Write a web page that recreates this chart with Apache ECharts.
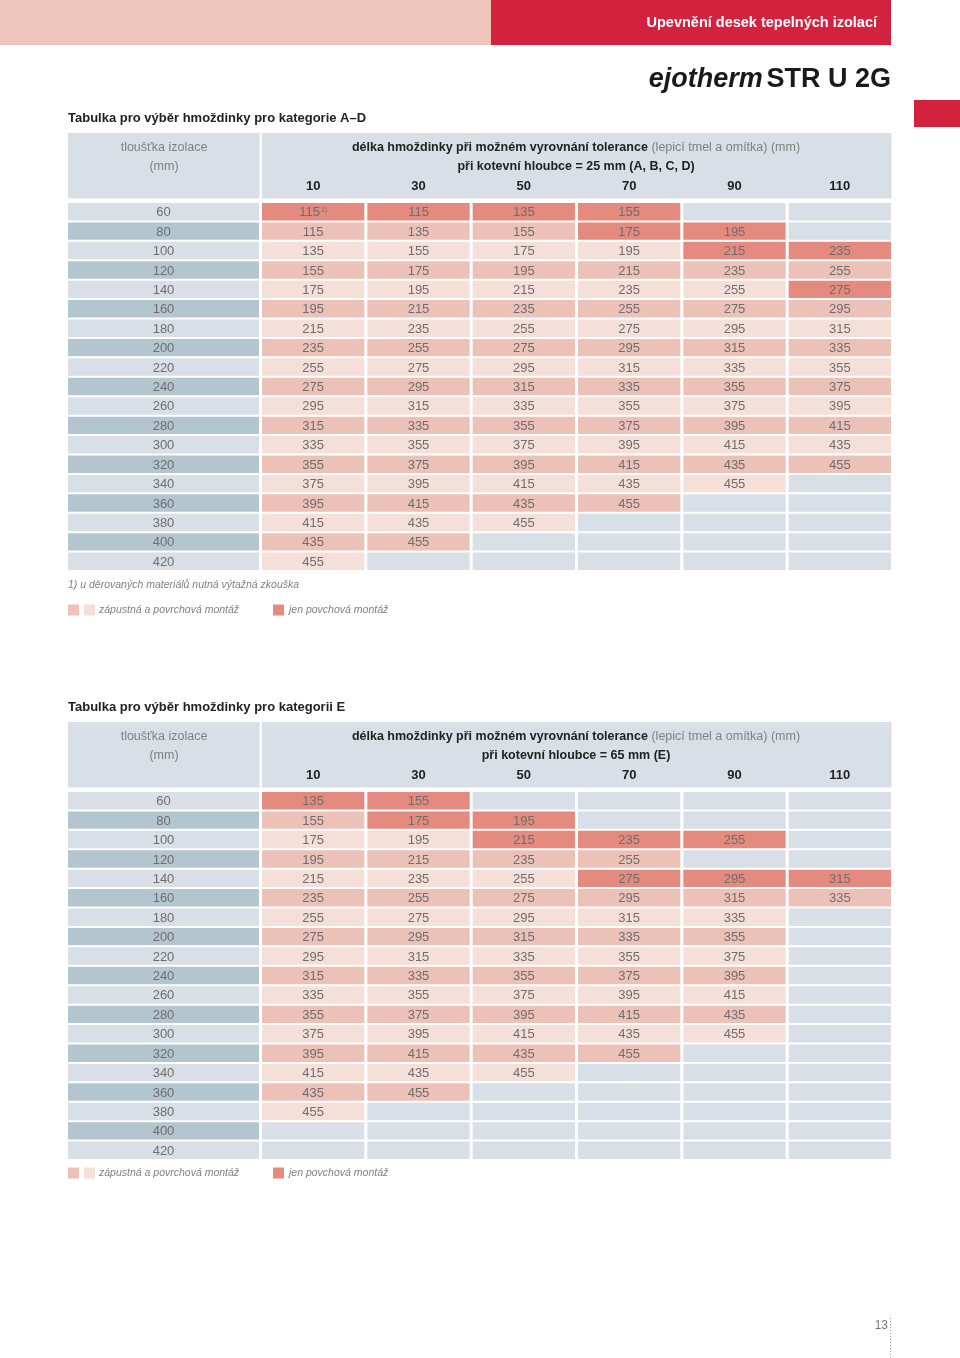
<!DOCTYPE html>
<html><head><meta charset="utf-8">
<script src="https://cdn.jsdelivr.net/npm/echarts@6/dist/echarts.min.js"></script>
<style>html,body{margin:0;padding:0;background:#fff}#c{width:960px;height:1358px}</style>
</head><body><div id="c"></div>
<script>
// ---------- data ----------
const thickness = [60,80,100,120,140,160,180,200,220,240,260,280,300,320,340,360,380,400,420];
const tolerance = ['10','30','50','70','90','110'];

const lengthsAD = [
  [115,115,135,155,null,null],
  [115,135,155,175,195,null],
  [135,155,175,195,215,235],
  [155,175,195,215,235,255],
  [175,195,215,235,255,275],
  [195,215,235,255,275,295],
  [215,235,255,275,295,315],
  [235,255,275,295,315,335],
  [255,275,295,315,335,355],
  [275,295,315,335,355,375],
  [295,315,335,355,375,395],
  [315,335,355,375,395,415],
  [335,355,375,395,415,435],
  [355,375,395,415,435,455],
  [375,395,415,435,455,null],
  [395,415,435,455,null,null],
  [415,435,455,null,null,null],
  [435,455,null,null,null,null],
  [455,null,null,null,null,null]
];
// cells only for surface mounting: [thickness, tolerance]
const surfaceOnlyAD = [[60,'10'],[60,'30'],[60,'50'],[60,'70'],[80,'70'],[80,'90'],[100,'90'],[100,'110'],[140,'110']];
const footnoteAD = [[60,'10']];

const lengthsE = [
  [135,155,null,null,null,null],
  [155,175,195,null,null,null],
  [175,195,215,235,255,null],
  [195,215,235,255,null,null],
  [215,235,255,275,295,315],
  [235,255,275,295,315,335],
  [255,275,295,315,335,null],
  [275,295,315,335,355,null],
  [295,315,335,355,375,null],
  [315,335,355,375,395,null],
  [335,355,375,395,415,null],
  [355,375,395,415,435,null],
  [375,395,415,435,455,null],
  [395,415,435,455,null,null],
  [415,435,455,null,null,null],
  [435,455,null,null,null,null],
  [455,null,null,null,null,null],
  [null,null,null,null,null,null],
  [null,null,null,null,null,null]
];
const surfaceOnlyE = [[60,'10'],[60,'30'],[80,'30'],[80,'50'],[100,'50'],[100,'70'],[100,'90'],[140,'70'],[140,'90'],[140,'110']];
const footnoteE = [];

// ---------- styles ----------
const C = {
  dark: '#e58a7f', mid: '#ecc1b8', light: '#f5dfd9', empty: '#d9dfe6',
  lblLight: '#d9dfe6', lblDark: '#b3c6cf', head: '#d9dfe6',
  red: '#d4213e', pink: '#edc5bd', text: '#6e6e6e', dtext: '#222', gray: '#808080'
};
const FF = '"Liberation Sans", Arial, sans-serif';

function buildData(lengths, surface, foot) {
  const out = [];
  lengths.forEach((row, r) => {
    row.forEach((v, c) => {
      const key = (p) => p[0] === thickness[r] && p[1] === tolerance[c];
      const kind = v == null ? 'empty' : (surface.some(key) ? 'surface' : 'both');
      out.push([c, r, v == null ? 0 : v, kind, foot.some(key) ? 1 : 0]);
    });
  });
  return out;
}
const labelData = thickness.map((t, r) => [0, r, t]);

function cellRender(params, api) {
  const p = api.coord([api.value(0), api.value(1)]);
  const s = api.size([1, 1]);
  const r = api.value(1);
  const kind = api.value(3);
  let fill;
  if (kind === 'empty') fill = C.empty;
  else if (kind === 'surface') fill = C.dark;
  else fill = (r % 2 === 1) ? C.mid : C.light;
  const v = api.value(2);
  const foot = api.value(4);
  const label = kind === 'empty' ? '' : (foot ? '{n|' + v + '}{s|1)}' : String(v));
  return {
    type: 'group',
    children: [
      { type: 'rect', shape: { x: p[0] - s[0] / 2 + 1.5, y: p[1] - s[1] / 2 + 1, width: s[0] - 3, height: s[1] - 2 }, style: { fill } },
      { type: 'text', x: p[0], y: p[1] + 1, style: {
          text: label,
          rich: { n: { fontSize: 13, fill: C.text, fontFamily: FF }, s: { fontSize: 7, fill: C.text, fontFamily: FF, verticalAlign: 'top', padding: [0, 0, 6, 1] } },
          fontSize: 13, fill: C.text, fontFamily: FF, align: 'center', verticalAlign: 'middle' } }
    ]
  };
}
function labelRender(params, api) {
  const p = api.coord([api.value(0), api.value(1)]);
  const s = api.size([1, 1]);
  const r = api.value(1);
  return {
    type: 'group',
    children: [
      { type: 'rect', shape: { x: p[0] - s[0] / 2 + 1.5, y: p[1] - s[1] / 2 + 1, width: s[0] - 3, height: s[1] - 2 }, style: { fill: r % 2 === 1 ? C.lblDark : C.lblLight } },
      { type: 'text', x: p[0], y: p[1] + 1, style: { text: String(api.value(2)), fontSize: 13, fill: C.text, fontFamily: FF, align: 'center', verticalAlign: 'middle' } }
    ]
  };
}

const T1 = 202, T2 = 791, H = 369;
const grids = [
  { left: 66.5, top: T1, width: 194, height: H },
  { left: 260.5, top: T1, width: 632, height: H },
  { left: 66.5, top: T2, width: 194, height: H },
  { left: 260.5, top: T2, width: 632, height: H }
];
const hide = { axisLine: { show: false }, axisTick: { show: false }, splitLine: { show: false } };
const xAxes = grids.map((g, i) => Object.assign({
  type: 'category', gridIndex: i, position: 'top',
  data: i % 2 ? tolerance : [''],
  axisLabel: i % 2 ? { show: true, margin: 9, fontSize: 13, fontWeight: 'bold', color: C.dtext, fontFamily: FF } : { show: false }
}, hide));
const yAxes = grids.map((g, i) => Object.assign({
  type: 'category', gridIndex: i, inverse: true, data: thickness.map(String), axisLabel: { show: false }
}, hide));

// ---------- decorations ----------
function txt(x, y, text, o) {
  return { type: 'text', x, y, silent: true, style: Object.assign({ text, fontFamily: FF, fontSize: 13, fill: C.dtext, align: 'left', verticalAlign: 'middle' }, o || {}) };
}
function box(x, y, w, h, fill) { return { type: 'rect', silent: true, shape: { x, y, width: w, height: h }, style: { fill } }; }

function tableDeco(topY, title, depth) {
  return [
    txt(68, topY - 15, title, { fontWeight: 'bold', fontSize: 13 }),
    box(68, topY, 191.5, 65.5, C.head),
    box(262, topY, 629.5, 65.5, C.head),
    txt(164, topY + 15, 'tloušťka izolace', { align: 'center', fill: C.gray, fontSize: 12.5 }),
    txt(164, topY + 34, '(mm)', { align: 'center', fill: C.gray, fontSize: 12.5 }),
    txt(576, topY + 15, '{b|délka hmoždinky při možném vyrovnání tolerance} {g|(lepicí tmel a omítka) (mm)}', {
      align: 'center', rich: { b: { fontWeight: 'bold', fontSize: 12.5, fill: C.dtext, fontFamily: FF }, g: { fontSize: 12.5, fill: C.gray, fontFamily: FF } } }),
    txt(576, topY + 34, 'při kotevní hloubce = ' + depth, { align: 'center', fontWeight: 'bold', fontSize: 12.5 })
  ];
}
function legend(y) {
  return [
    box(68, y - 5.5, 11, 11, C.mid), box(84, y - 5.5, 11, 11, C.light),
    txt(99, y, 'zápustná a povrchová montáž', { fontStyle: 'italic', fontSize: 10.5, fill: C.gray }),
    box(273, y - 5.5, 11, 11, C.dark),
    txt(289, y, 'jen povchová montáž', { fontStyle: 'italic', fontSize: 10.5, fill: C.gray })
  ];
}

const graphics = [
  box(0, 0, 491, 45, C.pink),
  box(491, 0, 400, 45, C.red),
  txt(877, 23, 'Upevnění desek tepelných izolací', { align: 'right', fill: '#fff', fontWeight: 'bold', fontSize: 14.5 }),
  txt(891, 80, '{i|ejotherm} {b|STR U 2G}', { align: 'right', rich: {
    i: { fontStyle: 'italic', fontWeight: 'bold', fontSize: 27, fill: '#1a1a1a', fontFamily: FF },
    b: { fontWeight: 'bold', fontSize: 27, fill: '#1a1a1a', fontFamily: FF } } }),
  box(914, 100, 46, 27, C.red),
  ...tableDeco(133, 'Tabulka pro výběr hmoždinky pro kategorie A–D', '25 mm (A, B, C, D)'),
  txt(68, 585, '1) u děrovaných materiálů nutná výtažná zkouška', { fontStyle: 'italic', fontSize: 10.5, fill: C.gray }),
  ...legend(610),
  ...tableDeco(722, 'Tabulka pro výběr hmoždinky pro kategorii E', '65 mm (E)'),
  ...legend(1173),
  txt(888, 1326, '13', { align: 'right', fontSize: 12, fill: '#777' }),
  { type: 'line', silent: true, shape: { x1: 890.5, y1: 1318, x2: 890.5, y2: 1358 }, style: { stroke: '#999', lineWidth: 1, lineDash: [1, 2] } }
];

const chart = echarts.init(document.getElementById('c'), null, { renderer: 'canvas' });
chart.setOption({
  backgroundColor: '#fff',
  animation: false,
  grid: grids,
  xAxis: xAxes,
  yAxis: yAxes,
  graphic: graphics,
  series: [
    { type: 'custom', xAxisIndex: 0, yAxisIndex: 0, renderItem: labelRender, data: labelData },
    { type: 'custom', xAxisIndex: 1, yAxisIndex: 1, renderItem: cellRender, data: buildData(lengthsAD, surfaceOnlyAD, footnoteAD) },
    { type: 'custom', xAxisIndex: 2, yAxisIndex: 2, renderItem: labelRender, data: labelData },
    { type: 'custom', xAxisIndex: 3, yAxisIndex: 3, renderItem: cellRender, data: buildData(lengthsE, surfaceOnlyE, footnoteE) }
  ]
});
</script></body></html>
